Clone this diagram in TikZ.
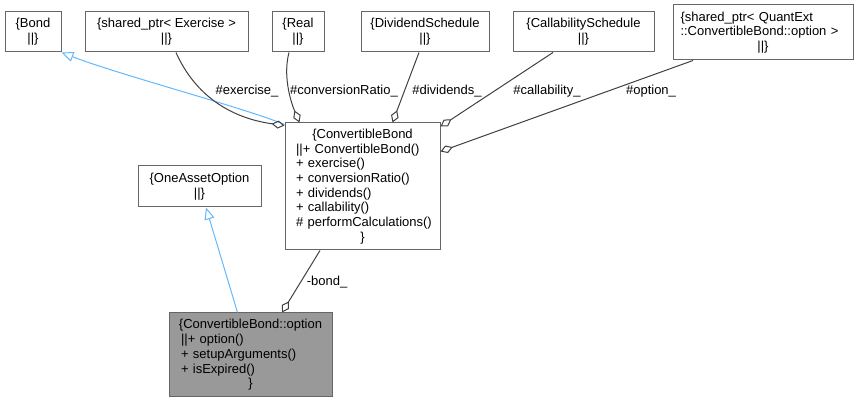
\documentclass[tikz,border=0pt]{standalone}
\usepackage{fontspec}
\setmainfont{Liberation Sans}
\usetikzlibrary{arrows.meta}
\definecolor{edgegray}{RGB}{64, 64, 64}
\definecolor{boxgray}{RGB}{102, 102, 102}
\definecolor{inhblue}{RGB}{99, 184, 255}
\definecolor{selfgray}{RGB}{153, 153, 153}
\newcommand{\midline}[1]{\makebox[\linewidth]{#1}}
\tikzset{
    umlbox/.style={rectangle, draw=boxgray, line width=1pt, fill=white, inner sep=0pt, align=center, font=\fontsize{13}{14.7}\selectfont},
    member/.style={draw=edgegray, line width=1pt, {Diamond[open, length=13pt, width=8pt]}-},
    inherit/.style={draw=inhblue, line width=1pt, -{Triangle[open, length=12pt, width=10pt]}},
    lbl/.style={font=\fontsize{13}{14.7}\selectfont, inner sep=0pt}
}

\begin{document}
\begin{tikzpicture}[x=1pt, y=1pt]
    \useasboundingbox (0,0) rectangle (857,403);

    % Top row: bases and member types
    \node[umlbox, minimum width=56pt, minimum height=40pt] (bond) at (33,371) {\{Bond\\||\}};
    \node[umlbox, minimum width=163pt, minimum height=40pt] (exer) at (166.5,371) {\{shared\_ptr< Exercise >\\||\}};
    \node[umlbox, minimum width=52pt, minimum height=40pt] (real) at (298,371) {\{Real\\||\}};
    \node[umlbox, minimum width=128pt, minimum height=40pt] (divs) at (425,371) {\{DividendSchedule\\||\}};
    \node[umlbox, minimum width=141pt, minimum height=40pt] (calls) at (583.5,371) {\{CallabilitySchedule\\||\}};
    \node[umlbox, align=left, text width=165pt, minimum width=180pt, minimum height=55pt] (optptr) at (763,370.5)
        {\{shared\_ptr< QuantExt\\::ConvertibleBond::option >\\\midline{||\}}};

    % The bond class itself
    \node[umlbox, align=left, text width=133pt, minimum width=155pt, minimum height=127pt] (cbond) at (362.5,216.5)
        {\midline{\{ConvertibleBond}\\||+ ConvertibleBond()\\+ exercise()\\+ conversionRatio()\\+ dividends()\\+ callability()\\\mbox{\# performCalculations()}\\\midline{\}}};

    \node[umlbox, minimum width=123pt, minimum height=41pt] (oneasset) at (199.5,216.5) {\{OneAssetOption\\||\}};

    % Focus class (filled)
    \node[umlbox, fill=selfgray, align=left, text width=139pt, minimum width=163pt, minimum height=84pt] (option) at (250.5,48)
        {\midline{\{ConvertibleBond::option}\\||+ option()\\+ setupArguments()\\+ isExpired()\\\midline{\}}};

    % Inheritance
    \draw[inherit] ([yshift=-2pt]cbond.north west) .. controls (245,295) and (120,328) .. (bond.south east);
    \draw[inherit] ([xshift=-13pt]option.north) -- ([xshift=6.5pt]oneasset.south);

    % Members
    \draw[member] ([yshift=-3pt]cbond.north west) .. controls (230,285) and (195,308) .. ([xshift=9.5pt]exer.south);
    \draw[member] ([xshift=15pt]cbond.north west) .. controls (290,303) and (283,328) .. ([xshift=-9pt]real.south);
    \draw[member] ([xshift=108pt]cbond.north west) -- ([xshift=-6pt]divs.south);
    \draw[member] ([yshift=-4pt]cbond.north east) -- ([xshift=-30.5pt]calls.south);
    \draw[member] ([yshift=-29pt]cbond.north east) -- ([xshift=-70pt]optptr.south);
    \draw[member] ([xshift=31.5pt]option.north) -- ([xshift=-42.5pt]cbond.south);

    % Edge labels
    \node[lbl] (lexer) at (247,312) {\#exercise\_};
    \node[lbl] (lconv) at (344,312) {\#conversionRatio\_};
    \node[lbl] (ldivs) at (447,312) {\#dividends\_};
    \node[lbl] (lcalls) at (547,312) {\#callability\_};
    \node[lbl] (lopt) at (651,312) {\#option\_};
    \node[lbl] (lbond) at (327,121) {-bond\_};
\end{tikzpicture}
\end{document}
